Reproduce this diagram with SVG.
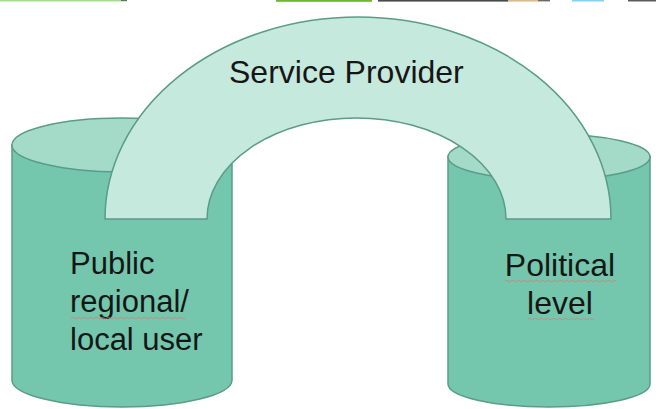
<svg xmlns="http://www.w3.org/2000/svg" width="656" height="409" viewBox="0 0 656 409">
  <style>
    .body { fill: #74c7ad; stroke: #5a9c86; stroke-width: 1.5; }
    .rim { fill: #a4dbc8; stroke: #5a9c86; stroke-width: 1.5; }
    .arch { fill: #c6e9dd; stroke: #5a9c86; stroke-width: 1.5; }
    .label { font-family: "Liberation Sans", Arial, sans-serif; fill: #161616; }
    .squiggle { fill: none; stroke: #d77a6e; stroke-width: 1; opacity: 0.75; }
  </style>
  <rect width="656" height="409" fill="#ffffff"/>

  <!-- strip along the upper edge -->
  <g id="top-strip">
    <rect x="0" y="0" width="121" height="1.5" fill="#a6dc90"/>
    <rect x="121" y="0" width="6" height="1.2" fill="#4e7a5e"/>
    <rect x="276" y="0" width="96" height="1.8" fill="#6db62e"/>
    <rect x="378" y="0" width="130" height="1.6" fill="#4a4a48"/>
    <rect x="508" y="0" width="30" height="1.6" fill="#d9b98f"/>
    <rect x="538" y="0" width="12" height="1.4" fill="#6b6a66"/>
    <rect x="572" y="0" width="32" height="1.5" fill="#86d2ef"/>
    <rect x="628" y="0" width="28" height="1.5" fill="#5c5c5a"/>
  </g>

  <!-- left cylinder -->
  <g id="public-user">
    <path class="body" d="M12,145 L12,380 A110,27 0 0 0 232,380 L232,145 Z"/>
    <ellipse class="rim" cx="122" cy="145" rx="110" ry="27"/>
  </g>

  <!-- right cylinder -->
  <g id="political-level">
    <path class="body" d="M448,157 L448,384 A101,23 0 0 0 650,384 L650,157 Z"/>
    <ellipse class="rim" cx="549" cy="157" rx="101" ry="23"/>
  </g>

  <!-- bridging arch -->
  <g id="connectors">
    <g id="service-provider">
      <path class="arch" d="M105,219 A253,202 0 0 1 611,219 L506,219 A149.5,101 0 0 0 207,219 Z"/>
    </g>
  </g>

  <!-- labels -->
  <g id="labels">
    <text class="label" x="229" y="83" font-size="32">Service Provider</text>

    <text class="label" x="70" y="274" font-size="31">Public</text>
    <text class="label" x="70" y="312" font-size="31">regional/</text>
    <text class="label" x="70" y="350" font-size="31">local user</text>

    <text class="label" x="560" y="276" font-size="32" text-anchor="middle">Political</text>
    <text class="label" x="560" y="314" font-size="32" text-anchor="middle">level</text>
  </g>

  <!-- spell-check underlines -->
  <g id="squiggles">
    <path class="squiggle" d="M71,318 q1.5,-1.5 3,0 t3,0 t3,0 t3,0 t3,0 t3,0 t3,0 t3,0 t3,0 t3,0 t3,0 t3,0 t3,0 t3,0 t3,0 t3,0 t3,0 t3,0 t3,0 t3,0 t3,0 t3,0 t3,0 t3,0 t3,0 t3,0 t3,0 t3,0 t3,0 t3,0 t3,0 t3,0 t3,0 t3,0 t3,0 t3,0 t3,0 t3,0"/>
    <path class="squiggle" d="M505,281 q1.5,-1.5 3,0 t3,0 t3,0 t3,0 t3,0 t3,0 t3,0 t3,0 t3,0 t3,0 t3,0 t3,0 t3,0 t3,0 t3,0 t3,0 t3,0 t3,0 t3,0 t3,0 t3,0 t3,0 t3,0 t3,0 t3,0 t3,0 t3,0 t3,0 t3,0 t3,0 t3,0 t3,0 t3,0 t3,0 t3,0 t3,0 t3,0"/>
    <path class="squiggle" d="M528,319 q1.5,-1.5 3,0 t3,0 t3,0 t3,0 t3,0 t3,0 t3,0 t3,0 t3,0 t3,0 t3,0 t3,0 t3,0 t3,0 t3,0 t3,0 t3,0 t3,0 t3,0 t3,0 t3,0 t3,0"/>
  </g>
</svg>
